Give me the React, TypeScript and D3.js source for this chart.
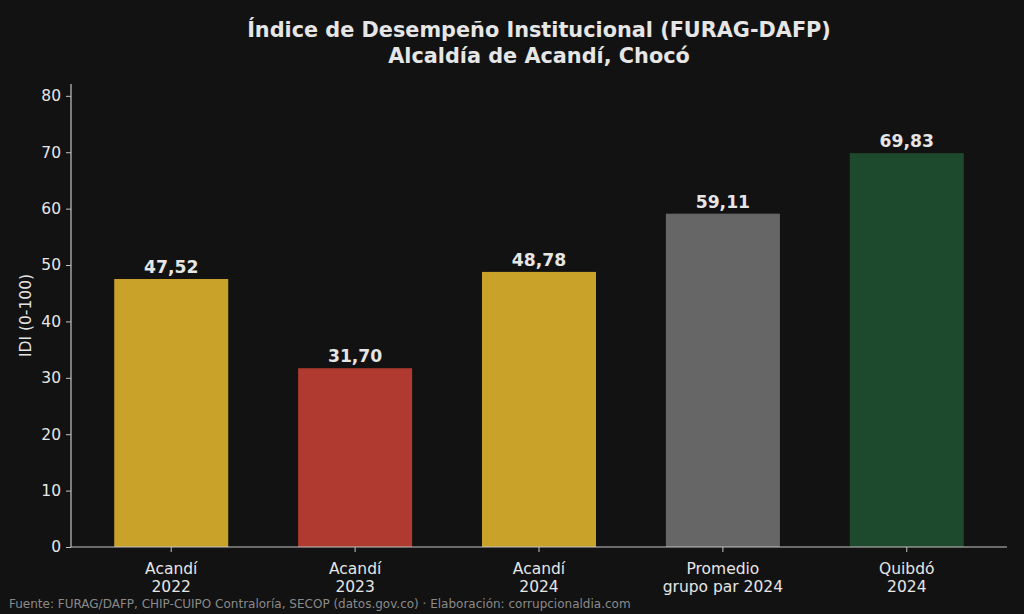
import { scaleBand, scaleLinear, select, axisLeft, axisBottom } from 'd3'
import { useEffect, useRef } from 'react'

const categories = ['Acandí\n2022', 'Acandí\n2023', 'Acandí\n2024', 'Promedio\ngrupo par 2024', 'Quibdó\n2024']
const values = [47.52, 31.70, 48.78, 59.11, 69.83]
const barColors = ['#C9A22A', '#B03A2F', '#C9A22A', '#666666', '#1D4A2C']
const yTicks = [0, 10, 20, 30, 40, 50, 60, 70, 80]

const W = 1024
const H = 614
const margin = { left: 71, right: 17, top: 84, bottom: 67 }
const font = 'DejaVu Sans, sans-serif'
const textColor = '#e6e6e6'
const spineColor = '#c4c4c4'

export default function App() {
    const ref = useRef(null)

    useEffect(() => {
        const svg = select(ref.current)
        svg.selectAll('*').remove()

        const x = scaleBand()
            .domain(categories)
            .range([margin.left, W - margin.right])
            .paddingInner(0.38)
            .paddingOuter(0.235)

        const y = scaleLinear()
            .domain([0, 82.1])
            .range([H - margin.bottom, margin.top])

        svg.append('rect').attr('width', W).attr('height', H).attr('fill', '#121212')

        // titulo
        svg.append('text')
            .attr('x', 539).attr('y', 37)
            .attr('text-anchor', 'middle')
            .attr('font-family', font).attr('font-weight', 'bold').attr('font-size', 20.8)
            .attr('fill', textColor)
            .text('Índice de Desempeño Institucional (FURAG-DAFP)')
        svg.append('text')
            .attr('x', 539).attr('y', 63)
            .attr('text-anchor', 'middle')
            .attr('font-family', font).attr('font-weight', 'bold').attr('font-size', 20.8)
            .attr('fill', textColor)
            .text('Alcaldía de Acandí, Chocó')

        // barras
        svg.append('g')
            .selectAll('rect')
            .data(values)
            .join('rect')
            .attr('x', (d, i) => x(categories[i]))
            .attr('width', x.bandwidth())
            .attr('y', d => y(d))
            .attr('height', d => y(0) - y(d))
            .attr('fill', (d, i) => barColors[i])

        svg.append('g')
            .selectAll('text')
            .data(values)
            .join('text')
            .attr('x', (d, i) => x(categories[i]) + x.bandwidth() / 2)
            .attr('y', d => y(d) - 6)
            .attr('text-anchor', 'middle')
            .attr('font-family', font).attr('font-weight', 'bold').attr('font-size', 17.2)
            .attr('fill', textColor)
            .text(d => d.toFixed(2).replace('.', ','))

        // eje y
        const gy = svg.append('g')
            .attr('transform', `translate(${margin.left},0)`)
            .call(axisLeft(y).tickValues(yTicks).tickSize(5).tickPadding(5))
        gy.select('.domain').attr('stroke', spineColor).attr('stroke-width', 1.2)
            .attr('d', `M0,${margin.top}V${H - margin.bottom}`)
        gy.selectAll('.tick line').attr('stroke', spineColor)
        gy.selectAll('.tick text')
            .attr('fill', textColor).attr('font-family', font).attr('font-size', 15.5)

        // eje x
        const gx = svg.append('g')
            .attr('transform', `translate(0,${H - margin.bottom})`)
            .call(axisBottom(x).tickSize(5).tickFormat(() => ''))
        gx.select('.domain').attr('stroke', spineColor).attr('stroke-width', 1.2)
            .attr('d', `M${margin.left},0H${W - margin.right}`)
        gx.selectAll('.tick line').attr('stroke', spineColor)
        gx.selectAll('.tick text').remove()
        gx.selectAll('.tick')
            .append('text')
            .attr('text-anchor', 'middle')
            .attr('font-family', font).attr('font-size', 15.5)
            .attr('fill', textColor)
            .selectAll('tspan')
            .data(d => d.split('\n'))
            .join('tspan')
            .attr('x', 0)
            .attr('y', (d, i) => 27 + i * 18)
            .text(d => d)

        svg.append('text')
            .attr('transform', `translate(26,${(margin.top + H - margin.bottom) / 2}) rotate(-90)`)
            .attr('text-anchor', 'middle')
            .attr('dominant-baseline', 'middle')
            .attr('font-family', font).attr('font-size', 15.5)
            .attr('fill', textColor)
            .text('IDI (0-100)')

        svg.append('text')
            .attr('x', 9).attr('y', 608)
            .attr('font-family', font).attr('font-size', 12)
            .attr('fill', '#8a8a8a')
            .text('Fuente: FURAG/DAFP, CHIP-CUIPO Contraloría, SECOP (datos.gov.co) · Elaboración: corrupcionaldia.com')
    }, [])

    return (
        <svg ref={ref} width={W} height={H} style={{ display: 'block', position: 'absolute', left: 0, top: 0 }} />
    )
}
